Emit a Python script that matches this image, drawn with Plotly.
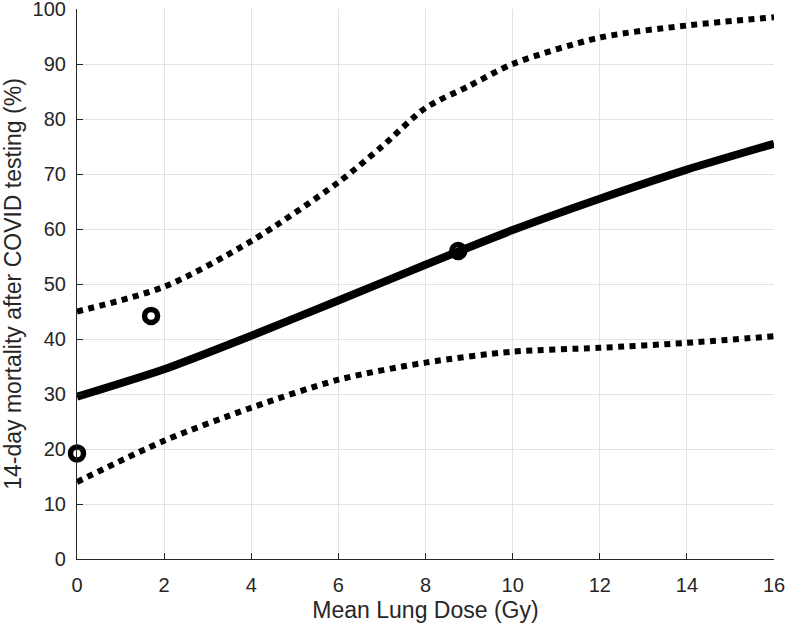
import plotly.graph_objects as go

dose = [0, 2, 4, 6, 8, 10, 12, 14, 16]
fit = [29.5, 34.5, 40.6, 47.0, 53.5, 59.8, 65.5, 70.8, 75.5]
upper_dose = [0, 2, 4, 6, 7, 8, 9, 10, 12, 14, 16]
upper = [45.0, 49.5, 57.8, 68.5, 75.0, 82.0, 86.0, 90.0, 94.8, 97.0, 98.5]
lower_dose = [0, 2, 4, 6, 8, 10, 12, 14, 16]
lower = [14.0, 21.5, 27.5, 32.6, 35.7, 37.7, 38.4, 39.3, 40.5]
obs_dose = [0, 1.7, 8.75]
obs_mort = [19.2, 44.2, 56.0]

FONT = "Liberation Sans, Arial, sans-serif"
TXT = "#262626"

fig = go.Figure()
fig.add_trace(go.Scatter(x=upper_dose, y=upper, mode="lines", line=dict(color="black", width=6, dash="6px,5.5px", shape="spline", smoothing=0.8), showlegend=False))
fig.add_trace(go.Scatter(x=lower_dose, y=lower, mode="lines", line=dict(color="black", width=6, dash="6px,5.5px", shape="spline", smoothing=0.8), showlegend=False))
fig.add_trace(go.Scatter(x=dose, y=fit, mode="lines", line=dict(color="black", width=8, shape="spline", smoothing=0.6), showlegend=False))
fig.add_trace(go.Scatter(x=obs_dose, y=obs_mort, mode="markers", marker=dict(symbol="circle-open", size=13, color="black", line=dict(width=5.5, color="black")), cliponaxis=False, showlegend=False))


def axis(rng, vals, title, standoff, lstand):
    return dict(range=rng, tickvals=vals,
                showgrid=True, gridcolor="#e3e3e3", gridwidth=1, zeroline=False,
                showline=True, linecolor=TXT, linewidth=1.2,
                ticks="inside", ticklen=6, tickcolor=TXT,
                ticklabeloverflow="allow", ticklabelstandoff=lstand,
                tickfont=dict(family=FONT, size=20, color=TXT),
                title=dict(text=title, standoff=standoff, font=dict(family=FONT, size=23, color=TXT)))


fig.update_layout(
    width=788, height=628,
    margin=dict(l=77, r=14, t=9, b=69, autoexpand=False),
    plot_bgcolor="white", paper_bgcolor="white",
    font=dict(family=FONT, size=20, color=TXT),
    xaxis=axis([0, 16], list(range(0, 17, 2)), "Mean Lung Dose (Gy)", 6, 8),
    yaxis=axis([0, 100], list(range(0, 101, 10)), "14-day mortality after COVID testing (%)", 5, 6),
)
fig.write_html("out.html", config={"displayModeBar": False},
               post_script="document.body.style.margin='0';document.body.style.padding='0';")
